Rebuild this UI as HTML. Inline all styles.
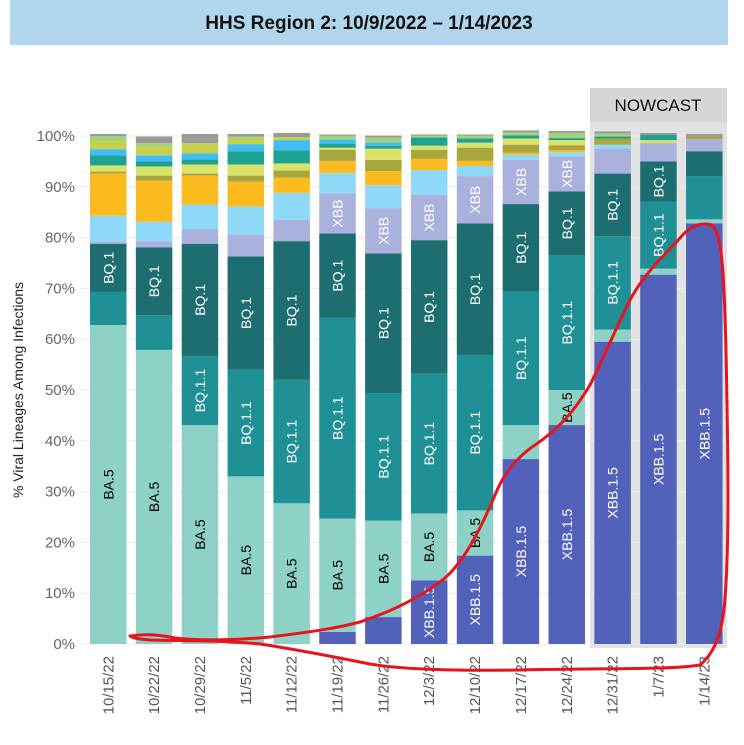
<!DOCTYPE html>
<html><head><meta charset="utf-8">
<style>
body{margin:0;background:#fff;width:744px;height:740px;overflow:hidden;font-family:"Liberation Sans",sans-serif}
</style></head>
<body>
<svg id="chart" width="744" height="740" xmlns="http://www.w3.org/2000/svg" font-family="Liberation Sans, sans-serif">
<rect x="10" y="0" width="718" height="45" fill="#b0d6ee"/>
<text x="369" y="29" text-anchor="middle" font-size="19" font-weight="bold" fill="#111">HHS Region 2: 10/9/2022 – 1/14/2023</text>
<rect x="590" y="88" width="137" height="560" fill="#e2e2e2"/>
<rect x="590" y="88" width="137" height="34" fill="#d6d6d6"/>
<text x="658" y="111" text-anchor="middle" font-size="17" fill="#111">NOWCAST</text>
<text transform="translate(23,390) rotate(-90)" text-anchor="middle" font-size="14" fill="#222">% Viral Lineages Among Infections</text>
<g id="grid"></g><g id="bars"></g><g id="xlabels"></g>
<path fill="none" stroke="#e8141c" stroke-width="3" stroke-linejoin="round"
d="M130,636 C150,633 165,636 175,638 C200,641 240,640 270,637 C300,633 330,630 360,622 C390,612 420,598 445,578 C465,560 480,530 495,495 C505,470 520,455 535,445 C560,428 575,410 590,385 C605,355 615,330 630,300 C645,272 665,255 680,238 C690,226 700,222 712,225 C722,235 724,270 726,350 C728,450 730,550 724,610 C720,640 712,655 700,665 C670,670 600,668 520,670 C450,671 400,669 370,664 C340,658 300,650 260,644 C220,640 180,641 150,640 C138,639 132,638 130,636 Z"/>
</svg>
<script>
const weeks=["10/15/22","10/22/22","10/29/22","11/5/22","11/12/22","11/19/22","11/26/22","12/3/22","12/10/22","12/17/22","12/24/22","12/31/22","1/7/23","1/14/23"];
const lineages=["XBB.1.5","BA.5","BQ.1.1","BQ.1","XBB","BA.2.75.2","BF.7","BA.4.6","BN.1","BA.2.75","BF.11","BA.5.2.6","BA.2.75.x","Other"];
const colors=["#5262bb","#8dd1c7","#1e9096","#1c6e70","#a9b1dc","#8ed8f8","#fdbb1f","#a8a63c","#d9e36a","#1da391","#41bdf4","#c5d14a","#a5d17a","#9a9a9a"];
const vXBB15=[0,0,0,0,0,2.4,5.3,12.5,17.4,36.4,43.1,59.5,72.7,82.8];
const vBA5=[62.8,57.9,43.1,33,27.7,22.3,19,13.2,8.9,6.7,6.9,2.4,1.2,0.8];
const vBQ11=[6.5,6.8,13.6,21,24.3,39.5,25.1,27.5,30.6,26.3,26.5,18.4,13.2,8.5];
const vBQ1=[9.5,13.4,22.1,22.3,27.3,16.6,27.5,26.3,25.9,17.2,12.6,12.3,7.9,4.9];
const vXBB=[0.4,1.2,2.8,4.3,4.2,7.9,8.9,8.9,9.3,8.7,6.9,4.9,3.6,2.4];
const vLBlue=[5.1,3.8,4.9,5.5,5.3,4,4.5,4.9,2,1,0.8,0.8,0,0];
const vOrange=[8.3,8.1,5.7,4.9,3,2.4,2.8,2.2,1,0.4,0.4,0,0,0];
const vOlive=[0.4,1,0.4,1.2,1.4,2.2,2.2,1.8,2.6,1.6,1,1.2,0,0.6];
const vLYellow=[1.2,1.8,1.8,2.2,1.4,0.4,2.2,0.8,1,1.2,1,0,0.6,0];
const vTeal=[2,1,1,2.6,2.6,0.8,0.6,1.6,0.8,0.6,0.4,0.4,1,0];
const vSky=[1.2,1.2,1.2,1.4,2,0.8,0.6,0,0,0,0,0,0,0];
const vYGreen=[1.6,1.8,2,1,0.6,0,0,0,0,0,0,0,0,0];
const vLGreen=[1,0.6,0,0.5,0,0.8,1,0.4,0.6,0.6,1,0.6,0,0];
const vOther=[0.4,1.3,1.8,0.5,0.8,0.2,0.4,0.2,0.2,0.4,0.4,0.4,0.4,0.4];
const series=[vXBB15,vBA5,vBQ11,vBQ1,vXBB,vLBlue,vOrange,vOlive,vLYellow,vTeal,vSky,vYGreen,vLGreen,vOther];
const yTicks=[0,10,20,30,40,50,60,70,80,90,100];
const labelColors=["#fff","#000","#fff","#fff","#fff"];
const hiddenLabels=["13-2"];

const NS="http://www.w3.org/2000/svg";
const y0=644,pxPer=5.08,x0=90,pitch=45.85,bw=36.5;
function yScale(p){return y0-p*pxPer;}
function xScale(i){return x0+i*pitch;}
function mk(tag,attrs,parent){const e=document.createElementNS(NS,tag);for(const k in attrs)e.setAttribute(k,attrs[k]);parent.appendChild(e);return e;}
const grid=document.getElementById('grid'),bars=document.getElementById('bars'),xl=document.getElementById('xlabels');
yTicks.forEach(t=>{
  const l=mk('line',{x1:80,x2:727,y1:yScale(t),y2:yScale(t),stroke:'#ececec','stroke-width':1},grid);
  
  
  const tx=mk('text',{x:75,y:yScale(t)+5,'text-anchor':'end','font-size':15,fill:'#666'},grid);
  tx.textContent=t+'%';
  
  
});
weeks.forEach((w,i)=>{
  let cum=0;
  const x=xScale(i);
  series.forEach((s,k)=>{
    const v=s[i];if(v<=0)return;
    const yt=yScale(cum+v),yb=yScale(cum);
    const r=mk('rect',{x:x,y:yt,width:bw,height:yb-yt,fill:colors[k]},bars);
    
    
    if(k<5 && yb-yt>=35 && hiddenLabels.indexOf(i+'-'+k)<0){
      const cy=(yt+yb)/2,cx=x+bw/2+5;
      const t=mk('text',{transform:`translate(${cx},${cy}) rotate(-90)`,'text-anchor':'middle','font-size':14,fill:labelColors[k]},bars);
      t.textContent=lineages[k];
      
      
    }
    cum+=v;
  });
  const t=mk('text',{transform:`translate(${x+bw/2+5},656) rotate(-90)`,'text-anchor':'end','font-size':15,fill:'#555'},xl);
  t.textContent=w;
  
  
});
</script>
</body></html>
